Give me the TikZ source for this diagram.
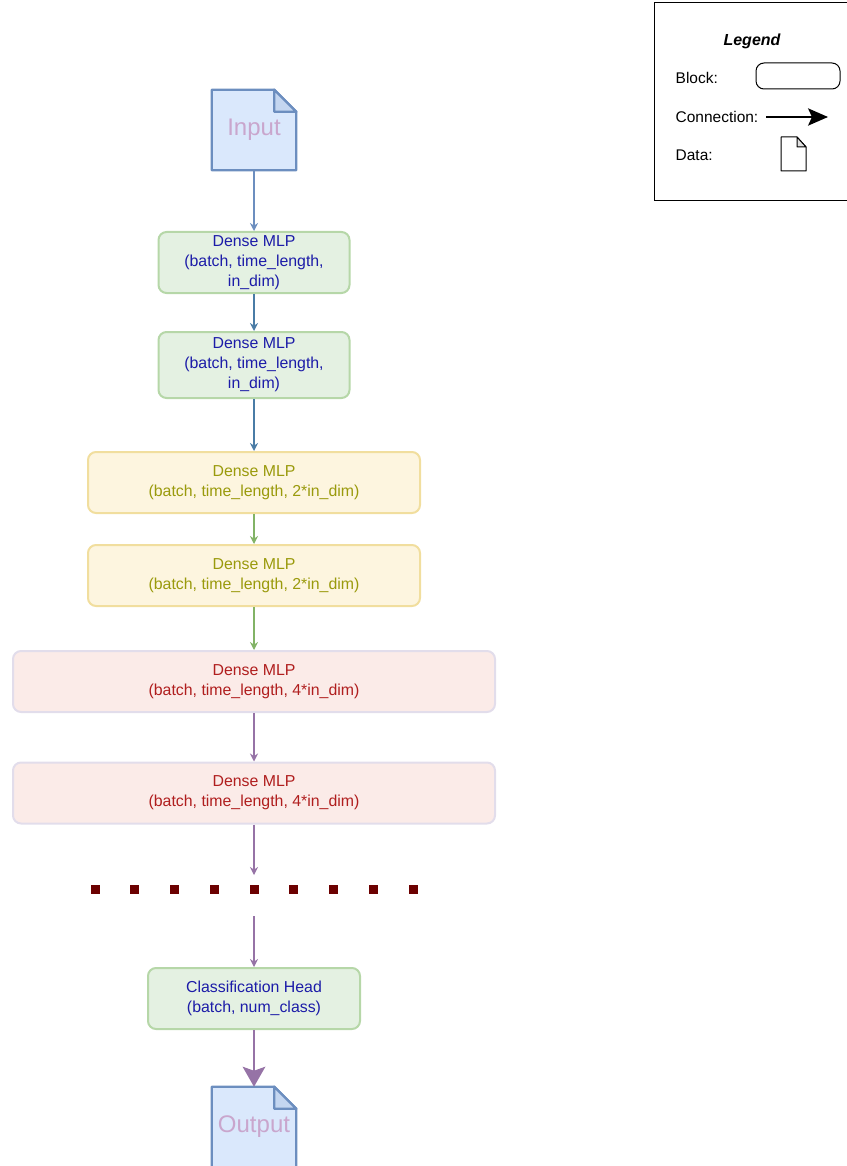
\documentclass[tikz,border=0pt]{standalone}
\usepackage{fontspec}
\setmainfont{Liberation Sans}
\usetikzlibrary{arrows.meta}
\pgfdeclarelayer{background}
\pgfsetlayers{background,main}

\definecolor{greenfill}{HTML}{E4F1E2}
\definecolor{greenline}{HTML}{B6D7A8}
\definecolor{yellowfill}{HTML}{FDF5DF}
\definecolor{yellowline}{HTML}{F1DE9E}
\definecolor{redfill}{HTML}{FBEBE8}
\definecolor{redline}{HTML}{E2DDEB}
\definecolor{bluetext}{HTML}{1C1CA8}
\definecolor{olivetext}{HTML}{9A9A0C}
\definecolor{redtext}{HTML}{B01E1E}
\definecolor{docfill}{HTML}{DAE8FC}
\definecolor{docline}{HTML}{6C8EBF}
\definecolor{doctext}{HTML}{C9A6CD}
\definecolor{steel}{HTML}{4A7CA6}
\definecolor{leaf}{HTML}{82B366}
\definecolor{plum}{HTML}{9673A6}
\definecolor{dotred}{HTML}{6C0000}

\begin{document}
\begin{tikzpicture}[x=.75pt,y=-.75pt,
    block/.style={draw, rounded corners=6pt, line width=1.5pt, align=center,
      inner sep=0pt, minimum height=45.75pt,
      font=\fontsize{11.9}{15}\selectfont},
    greenblock/.style={block, fill=greenfill, draw=greenline, text=bluetext},
    yellowblock/.style={block, fill=yellowfill, draw=yellowline, text=olivetext,
      minimum width=249pt},
    redblock/.style={block, fill=redfill, draw=redline, text=redtext,
      minimum width=361.5pt},
    datafile/.style={minimum width=63pt, minimum height=60pt, inner sep=0pt,
      text=doctext, font=\fontsize{18}{20}\selectfont},
    docbody/.style={fill=docfill, draw=docline, line width=1.8pt, line join=round},
    conn/.style={-{Stealth[length=6pt,width=6pt]}, line width=.9pt},
    legtext/.style={font=\fontsize{11.6}{13}\selectfont, anchor=west}]
  \useasboundingbox (0,0) rectangle (846,1166);

  % main chain
  \node[datafile] (inp) at (254,130) {Input};
  \node[greenblock, minimum width=143.25pt] (b1) at (254,262.5)
    {Dense MLP\\(batch, time\_length,\\in\_dim)};
  \node[greenblock, minimum width=143.25pt, minimum height=49.5pt] (b2) at (254,365)
    {Dense MLP\\(batch, time\_length,\\in\_dim)};
  \node[yellowblock] (b3) at (254,482.5) {Dense MLP\\(batch, time\_length, 2*in\_dim)};
  \node[yellowblock] (b4) at (254,575.5) {Dense MLP\\(batch, time\_length, 2*in\_dim)};
  \node[redblock] (b5) at (254,681.5) {Dense MLP\\(batch, time\_length, 4*in\_dim)};
  \node[redblock] (b6) at (254,793) {Dense MLP\\(batch, time\_length, 4*in\_dim)};
  \coordinate (dotsin) at (254,875);
  \coordinate (dotsout) at (254,916);
  \node[greenblock, minimum width=159pt] (head) at (254,998.5)
    {Classification Head\\(batch, num\_class)};
  \node[datafile] (outp) at (254,1127) {Output};

  % skipped layers
  \foreach \i in {0,...,8}
    \fill[dotred] (95+39.75*\i-4.5,884.5) rectangle (95+39.75*\i+4.5,893.5);

  % data shapes behind their labels
  \begin{pgfonlayer}{background}
    \foreach \d in {inp,outp} {
      \filldraw[docbody] (\d.north west) -- ([xshift=-16.5pt]\d.north east)
        -- ([yshift=-16.5pt]\d.north east) -- (\d.south east)
        -- (\d.south west) -- cycle;
      \filldraw[docbody, fill=docfill!80!docline] ([xshift=-16.5pt]\d.north east)
        -- ([xshift=-16.5pt,yshift=-16.5pt]\d.north east)
        -- ([yshift=-16.5pt]\d.north east) -- cycle;
    }
  \end{pgfonlayer}

  % connections
  \draw[conn, docline] (inp.south) -- (b1.north);
  \draw[conn, steel] (b1.south) -- (b2.north);
  \draw[conn, steel] (b2.south) -- (b3.north);
  \draw[conn, leaf] (b3.south) -- (b4.north);
  \draw[conn, leaf] (b4.south) -- (b5.north);
  \draw[conn, plum] (b5.south) -- (b6.north);
  \draw[conn, plum] (b6.south) -- (dotsin);
  \draw[conn, plum] (dotsout) -- (head.north);
  \draw[-{Stealth[length=15pt,width=17pt,inset=3pt]}, line width=1.5pt, plum]
    (head.south) -- (outp.north);

  % legend
  \draw[line width=.75pt] (654,3) rectangle (850,201);
  \node[font=\fontsize{12}{14}\selectfont\bfseries\itshape] (legtitle) at (752,41) {Legend};
  \node[legtext] (legblock) at (671,78) {Block:};
  \node[legtext] (legconn) at (671,117) {Connection:};
  \node[legtext] (legdata) at (671,155) {Data:};
  \draw[line width=.75pt, rounded corners=6pt] (756,63) rectangle (840,89);
  \draw[-{Stealth[length=15pt,width=13pt,inset=3pt]}, line width=1pt] (766,117) -- (828,117);
  \draw[line width=.75pt, line join=round] (781,137) -- (797,137) -- (806,147)
    -- (806,171) -- (781,171) -- cycle;
  \filldraw[line width=.75pt, fill=black!12, line join=round] (797,137) -- (797,147) -- (806,147) -- cycle;
\end{tikzpicture}
\end{document}
